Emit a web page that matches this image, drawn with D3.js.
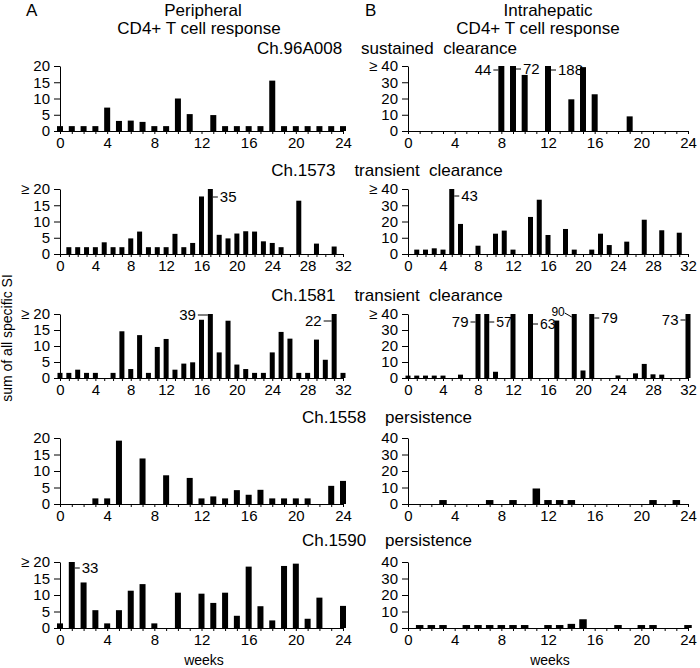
<!DOCTYPE html>
<html><head><meta charset="utf-8">
<script src="https://cdn.jsdelivr.net/npm/d3@7"></script>
<style>
body{margin:0;background:#fff}
svg text{font-family:"Liberation Sans",Arial,Helvetica,sans-serif;fill:#000}
</style>
</head><body><svg id="c" width="700" height="668"></svg>
<script>
// ---------- DATA ----------
const weeks24 = [0,1,2,3,4,5,6,7,8,9,10,11,12,13,14,15,16,17,18,19,20,21,22,23,24];
const weeks32 = [0,1,2,3,4,5,6,7,8,9,10,11,12,13,14,15,16,17,18,19,20,21,22,23,24,25,26,27,28,29,30,31,32];
const xTickLabels24 = [0,4,8,12,16,20,24];
const xTickLabels32 = [0,4,8,12,16,20,24,28,32];
const periphYTicks = [0,5,10,15,20];
const intraYTicks = [0,10,20,30,40];
const periphCap = 20, intraCap = 40;

const subjects = ["Ch.96A008","Ch.1573","Ch.1581","Ch.1558","Ch.1590"];
const outcomes = ["sustained  clearance","transient  clearance","transient  clearance","persistence","persistence"];

// sum of all specific SI per week (null = not measured)
const periph96A008 = [1.5,1.5,1.5,1.5,7.2,3.1,3.2,2.8,1.5,1.5,10,5.2,null,4.9,1.5,1.5,1.5,1.5,15.5,1.5,1.5,1.5,1.5,1.5,1.5];
const intra96A008  = [null,null,null,null,null,null,null,null,44,72,34.5,null,188,null,19.5,39.3,22.6,null,null,9,null,null,null,null,null];
const periph1573 = [null,2.1,2.1,2.1,2.1,3.6,2.1,2.1,4.8,6.9,2.1,2.1,2.1,6.2,2.1,3.4,17.7,35,5.9,4.8,6.3,7.0,6.9,3.9,3.4,2.1,null,16.4,null,3.2,null,2.3,null];
const intra1573  = [null,2.7,2.7,3.5,2.7,43,18.5,null,5.1,null,12.5,14.4,2.7,null,22.8,33.4,11.7,null,15.4,2.7,null,2.7,12.5,5.5,null,7.6,null,21.1,null,14.6,null,13.1,null];
const periph1581 = [1.6,1.6,2.6,1.6,1.6,null,1.6,14.6,2.8,13.4,1.6,9.7,12.2,2.6,4.5,4.9,18.2,39,8.0,17.9,4.2,2.8,1.6,1.6,8.0,14.4,12.3,1.6,1.6,12.0,5.7,22,1.6];
const intra1581  = [1.5,1.5,1.5,1.5,1.5,null,2.1,null,79,57,3.9,null,40,null,63,null,null,35.9,null,90,4.7,79,null,null,1.6,null,2.9,8.8,2.3,2.1,null,null,73];
const periph1558 = [null,null,null,1.7,1.7,19.2,null,13.8,null,8.7,null,7.9,1.7,2.3,1.7,4.2,2.8,4.3,1.7,1.7,1.7,1.7,null,5.5,7.0];
const intra1558  = [null,null,null,2.4,null,null,null,2.4,null,2.4,null,9.4,2.4,2.4,2.4,null,null,null,null,null,null,2.4,null,2.4,null];
const periph1590 = [1.4,33,13.8,5.4,1.4,5.4,11.3,13.3,1.4,null,10.7,null,10.4,7.6,10.7,3.7,18.6,6.6,2.3,18.8,19.5,2.8,9.2,null,6.7];
const intra1590  = [null,1.8,1.8,1.8,null,1.8,1.8,1.8,1.8,1.8,1.8,null,1.8,1.8,2.5,5.3,null,null,1.8,null,1.8,1.8,null,null,1.8];

const periphSeries = [periph96A008, periph1573, periph1581, periph1558, periph1590];
const intraSeries  = [intra96A008, intra1573, intra1581, intra1558, intra1590];
const rowWeeks = [weeks24, weeks32, weeks32, weeks24, weeks24];
const rowTickLabels = [xTickLabels24, xTickLabels32, xTickLabels32, xTickLabels24, xTickLabels24];

// placement of value labels for bars above the axis cap: [column, row, week, side]
const capLabelSides = [
  ["B",0,8,"left"],["B",0,9,"right"],["B",0,12,"right"],
  ["A",1,17,"right"],["B",1,5,"right"],
  ["A",2,17,"left"],["A",2,31,"left"],
  ["B",2,8,"left"],["B",2,9,"right"],["B",2,14,"right"],["B",2,19,"above"],["B",2,21,"right"],["B",2,32,"left"],
  ["A",4,1,"right"]
];
// label style: offset below the cap (px), font size (px), leader length (px) — same order as above
const capLabelStyle = [
  [4,15,5],[3,15,5],[4,15,5],
  [8,15,5],[7,15,5],
  [1,15,10],[7,15,8],
  [8,15,5],[8,14,5],[10,14,5],[0,12,7],[4,15,5],[6,15,5],
  [6,15,5]
];

// ---------- LAYOUT ----------
const svg = d3.select("#c");
const rowBase = [131,254,378,504,628];
const rowTop  = [66,189,314,438,562];
const titleY  = [54,176,301,423,546];
const cols = {
  A: {x0:60, x1:343, barW:[6,5,5,6,6], cap:periphCap, ticks:periphYTicks, series:periphSeries},
  B: {x0:408, x1:688, barW:[6,5,5,7.5,7.5], cap:intraCap, ticks:intraYTicks, series:intraSeries}
};
const tickFont = 15;

// headers
const hdr = svg.append("g").style("font-size","17px");
hdr.append("text").attr("x",26).attr("y",16).text("A");
hdr.append("text").attr("x",203).attr("y",16).attr("text-anchor","middle").text("Peripheral");
hdr.append("text").attr("x",199).attr("y",34).attr("text-anchor","middle").text("CD4+ T cell response");
hdr.append("text").attr("x",365).attr("y",16).text("B");
hdr.append("text").attr("x",548).attr("y",16).attr("text-anchor","middle").text("Intrahepatic");
hdr.append("text").attr("x",538).attr("y",34).attr("text-anchor","middle").text("CD4+ T cell response");

// row titles
subjects.forEach((s,i)=>{
  svg.append("text").attr("x",387).attr("y",titleY[i]).attr("text-anchor","middle")
    .style("font-size","17px").style("white-space","pre").attr("xml:space","preserve")
    .text(s + "    " + outcomes[i]);
});

// y label
svg.append("text").attr("transform","translate(12,338) rotate(-90)").attr("text-anchor","middle")
  .style("font-size","14px").text("sum of all specific SI");

// weeks labels
svg.append("text").attr("x",204).attr("y",665).attr("text-anchor","middle").style("font-size","14px").text("weeks");
svg.append("text").attr("x",550).attr("y",665).attr("text-anchor","middle").style("font-size","14px").text("weeks");

Object.entries(cols).forEach(([key,c])=>{
  c.series.forEach((vals,r)=>{
    const wk = rowWeeks[r];
    const x = d3.scaleLinear().domain([wk[0], wk[wk.length-1]]).range([c.x0, c.x1]);
    const y = d3.scaleLinear().domain([0, c.cap]).range([rowBase[r], rowTop[r]]);
    const data = wk.map((w,i)=>({w, v:vals[i]})).filter(d=>d.v!==null);
    const over = data.some(d=>d.v>c.cap);
    const g = svg.append("g");

    const xa = d3.axisBottom(x).tickValues(wk).tickSize(3).tickPadding(3).tickSizeOuter(0)
      .tickFormat(d=> rowTickLabels[r].includes(d) ? d : "");
    g.append("g").attr("transform",`translate(0,${rowBase[r]})`).call(xa)
      .call(s=>s.selectAll("text").style("font-size",tickFont+"px").style("font-family",null));
    const ya = d3.axisLeft(y).tickValues(c.ticks).tickSize(6).tickPadding(4).tickSizeOuter(0)
      .tickFormat(d=> (d===c.cap && over) ? "\u2265 "+d : d);
    g.append("g").attr("transform",`translate(${c.x0},0)`).call(ya)
      .call(s=>s.selectAll("text").style("font-size",tickFont+"px").style("font-family",null));
    g.selectAll(".domain,.tick line").attr("stroke","#000");

    const bw = c.barW[r];
    g.selectAll("rect.bar").data(data).join("rect").attr("class","bar")
      .attr("x",d=>x(d.w)-bw/2).attr("width",bw)
      .attr("y",d=>y(Math.min(d.v,c.cap)))
      .attr("height",d=>y(0)-y(Math.min(d.v,c.cap)))
      .attr("fill","#000");

    // cap labels
    data.filter(d=>d.v>c.cap).forEach(d=>{
      const idx = capLabelSides.findIndex(s=>s[0]===key && s[1]===r && s[2]===d.w);
      const side = idx>=0 ? capLabelSides[idx][3] : "right";
      const [off, fs, len] = idx>=0 ? capLabelStyle[idx] : [6,15,5];
      const ly = y(c.cap) + off;
      const xl = x(d.w)-bw/2, xr = x(d.w)+bw/2;
      if(side==="right"){
        g.append("line").attr("x1",xr).attr("x2",xr+len).attr("y1",ly).attr("y2",ly).attr("stroke","#000");
        g.append("text").attr("x",xr+len+2).attr("y",ly).attr("dy","0.35em").style("font-size",fs+"px").text(d.v);
      } else if(side==="left"){
        g.append("line").attr("x1",xl-len).attr("x2",xl).attr("y1",ly).attr("y2",ly).attr("stroke","#000");
        g.append("text").attr("x",xl-len-2).attr("y",ly).attr("dy","0.35em").attr("text-anchor","end").style("font-size",fs+"px").text(d.v);
      } else {
        const ty = y(c.cap);
        g.append("line").attr("x1",xl-len).attr("x2",xl).attr("y1",ty-1).attr("y2",ty+3).attr("stroke","#000");
        g.append("text").attr("x",xl-len).attr("y",ty+2).attr("text-anchor","end").style("font-size",fs+"px").text(d.v);
      }
    });
  });
});
</script>
</body></html>
